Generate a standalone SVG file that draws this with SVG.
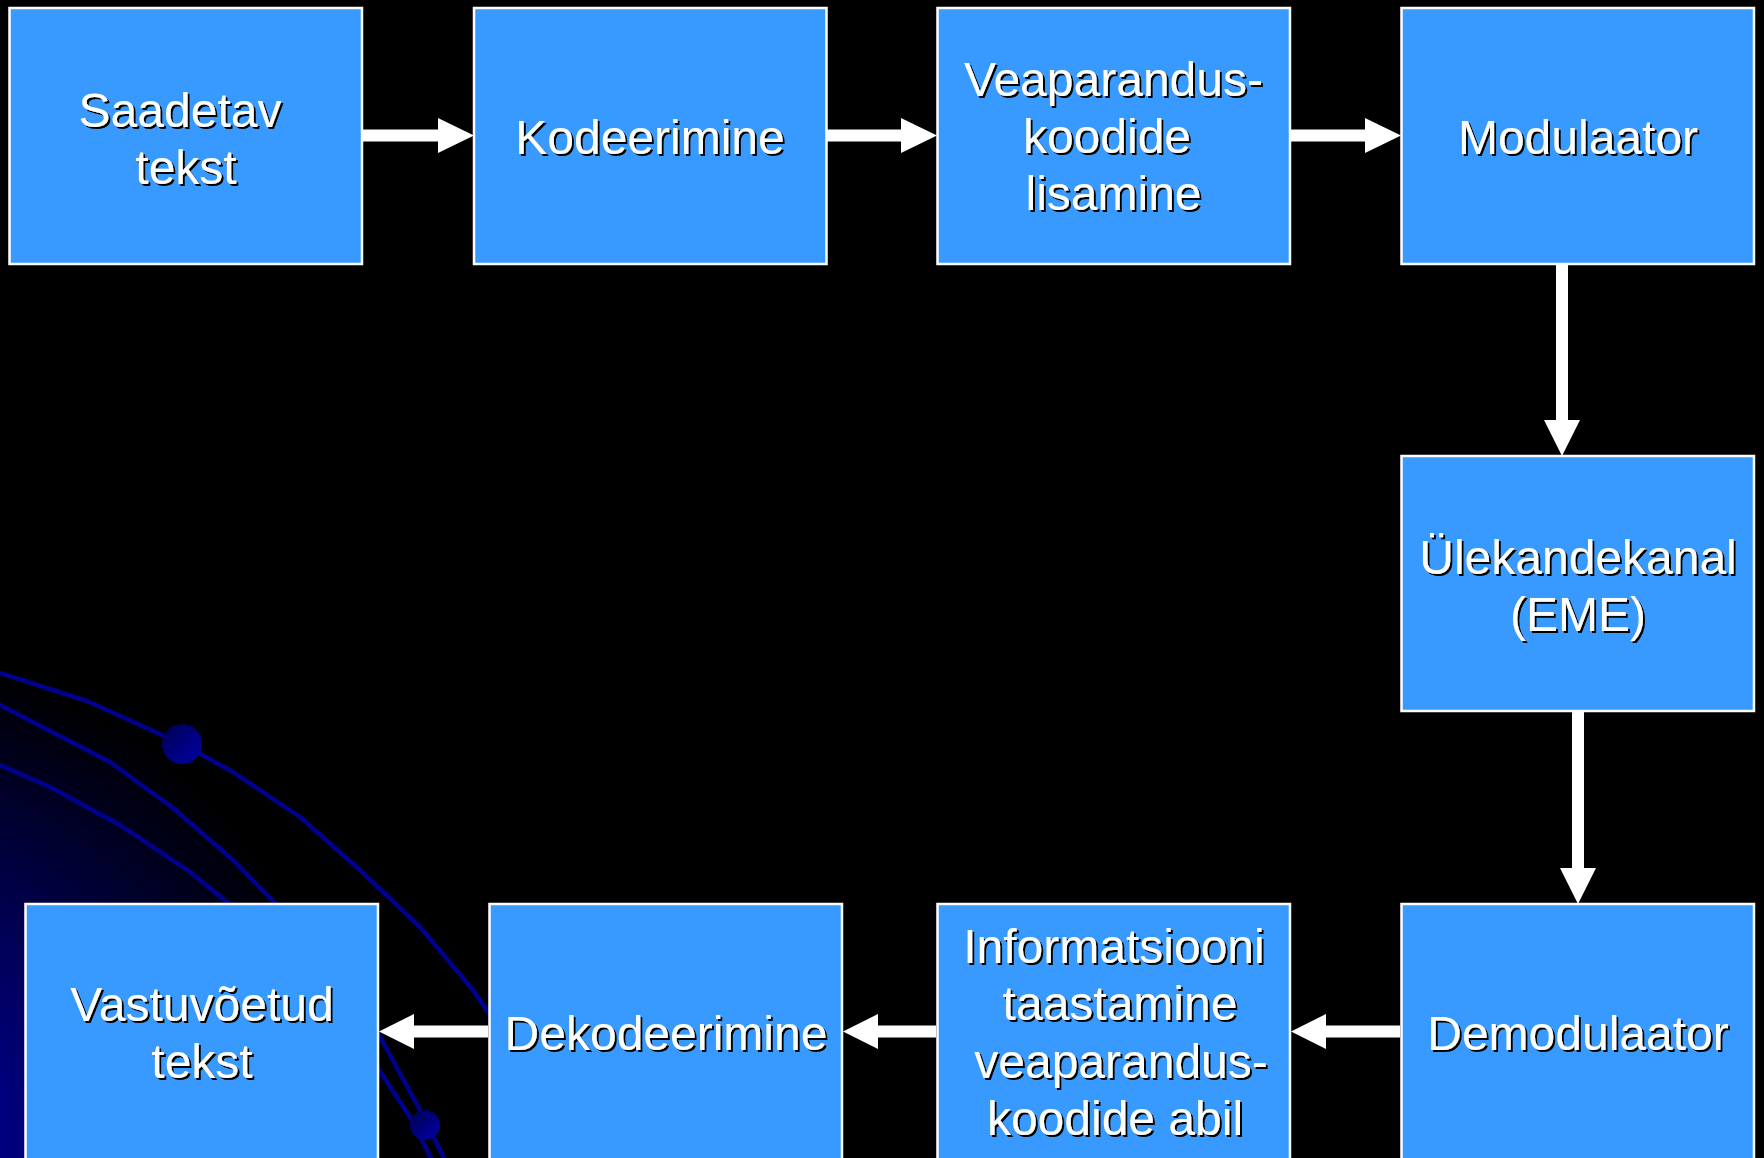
<svg xmlns="http://www.w3.org/2000/svg" width="1764" height="1158" viewBox="0 0 1764 1158">
<defs>
<radialGradient id="bg" gradientUnits="userSpaceOnUse" cx="-150" cy="1158" r="510">
<stop offset="0" stop-color="#000082"/>
<stop offset="0.3" stop-color="#000080"/>
<stop offset="1" stop-color="#000000"/>
</radialGradient>
<linearGradient id="sph" x1="0" y1="0" x2="1" y2="1">
<stop offset="0" stop-color="#00004C"/>
<stop offset="0.6" stop-color="#000088"/>
<stop offset="1" stop-color="#0000A0"/>
</linearGradient>
<filter id="sh" x="-10%" y="-30%" width="120%" height="160%">
<feDropShadow dx="2" dy="2" stdDeviation="0.6" flood-color="#000000" flood-opacity="1"/>
</filter>
</defs>
<style>
.box{fill:#3899FF;stroke:#FFFFFF;stroke-width:2.5}
.lbl{font-family:"Liberation Sans",Arial,sans-serif;font-size:48px;fill:#FFFFFF;text-anchor:middle;filter:url(#sh)}
.orb{fill:none;stroke:#00008E;stroke-width:4.5;stroke-linejoin:round;stroke-linecap:round}
.arr{fill:#FFFFFF}
</style>
<rect x="0" y="0" width="1764" height="1158" fill="#000000"/>
<rect x="0" y="500" width="700" height="658" fill="url(#bg)"/>
<g id="decor">
<polyline class="orb" points="0,673 87,701 182,744 233,772 300,817 360,870 420,927 473,990 500,1030 540,1100 570,1160"/>
<polyline class="orb" points="0,705 110,762 173,808 233,860 275,903 330,970 379,1035 420,1110 445,1160"/>
<polyline class="orb" points="0,765 50,787 120,825 190,872 228,903 300,980 379,1070 410,1117 432,1160"/>
<circle cx="182" cy="744" r="20" fill="url(#sph)"/>
<circle cx="425" cy="1125" r="15" fill="url(#sph)"/>
</g>
<g id="connectors">
<polygon class="arr" points="363,129.5 438,129.5 438,118 474,135.5 438,153 438,141.5 363,141.5"/>
<polygon class="arr" points="827,129.5 901,129.5 901,118 937,135.5 901,153 901,141.5 827,141.5"/>
<polygon class="arr" points="1291,129.5 1365,129.5 1365,118 1401,135.5 1365,153 1365,141.5 1291,141.5"/>
<polygon class="arr" points="1556,265 1556,420 1544,420 1562,456 1580,420 1568,420 1568,265"/>
<polygon class="arr" points="1572,712 1572,868 1560,868 1578,904 1596,868 1584,868 1584,712"/>
<polygon class="arr" points="1400,1025.5 1326,1025.5 1326,1014 1291,1031.5 1326,1049 1326,1037.5 1400,1037.5"/>
<polygon class="arr" points="936,1025.5 878,1025.5 878,1014 843,1031.5 878,1049 878,1037.5 936,1037.5"/>
<polygon class="arr" points="488,1025.5 414,1025.5 414,1014 379,1031.5 414,1049 414,1037.5 488,1037.5"/>
</g>
<g id="n1">
<rect class="box" x="9.5" y="8" width="352.5" height="256"/>
<text class="lbl"><tspan x="180" y="127">Saadetav</tspan><tspan x="186" y="184">tekst</tspan></text>
</g>
<g id="n2">
<rect class="box" x="474" y="8" width="352.5" height="256"/>
<text class="lbl" x="650" y="154">Kodeerimine</text>
</g>
<g id="n3">
<rect class="box" x="937.5" y="8" width="352.5" height="256"/>
<text class="lbl"><tspan x="1113.5" y="96">Veaparandus-</tspan><tspan x="1107" y="153">koodide</tspan><tspan x="1113.5" y="210">lisamine</tspan></text>
</g>
<g id="n4">
<rect class="box" x="1401.5" y="8" width="352.5" height="256"/>
<text class="lbl" x="1578" y="154">Modulaator</text>
</g>
<g id="n5">
<rect class="box" x="1401.5" y="456" width="352.5" height="255"/>
<text class="lbl"><tspan x="1578" y="574">Ülekandekanal</tspan><tspan x="1578" y="631">(EME)</tspan></text>
</g>
<g id="n6">
<rect class="box" x="1401.5" y="904" width="352.5" height="260"/>
<text class="lbl" x="1578" y="1050">Demodulaator</text>
</g>
<g id="n7">
<rect class="box" x="937.5" y="904" width="352.5" height="260"/>
<text class="lbl"><tspan x="1114" y="963">Informatsiooni</tspan><tspan x="1120" y="1020">taastamine</tspan><tspan x="1121" y="1078">veaparandus-</tspan><tspan x="1115" y="1135">koodide abil</tspan></text>
</g>
<g id="n8">
<rect class="box" x="489.5" y="904" width="352.5" height="260"/>
<text class="lbl" x="666" y="1050">Dekodeerimine</text>
</g>
<g id="n9">
<rect class="box" x="25.5" y="904" width="352.5" height="260"/>
<text class="lbl"><tspan x="202" y="1021">Vastuvõetud</tspan><tspan x="202" y="1078">tekst</tspan></text>
</g>
</svg>
